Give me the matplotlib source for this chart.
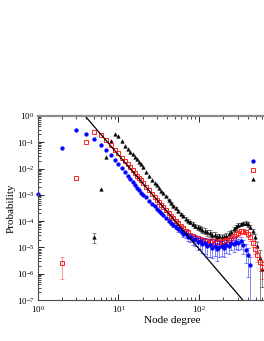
import numpy as np
import matplotlib
matplotlib.use('Agg')
import matplotlib.pyplot as plt
from matplotlib.ticker import LogLocator, NullFormatter, FixedLocator

plt.rcParams['font.family'] = ['Liberation Serif', 'DejaVu Serif']
plt.rcParams['mathtext.fontset'] = 'stix'

nan = np.nan

# node degree (log-binned above 20)
k = [1, 2, 3, 4, 5, 6, 7, 8, 9, 10, 11, 12, 13, 14, 15, 16, 17, 18, 19, 20,
     22, 24, 26, 28, 30, 32, 34, 36,
     39, 42, 45, 48, 51, 55, 59, 63, 68, 73, 78, 84, 90, 96,
     103, 110, 118, 126, 135, 145, 155, 166, 178, 190,
     204, 218, 233, 250, 267, 286, 306, 328, 351, 376,
     402, 430, 460, 493, 528, 565, 605]

# log10 of probability
blue_logp = [-2.96, -1.22, -0.54, -0.68, -0.89, -1.11, -1.31, -1.49, -1.66, -1.83,
             -1.98, -2.13, -2.27, -2.40, -2.53, -2.63, -2.73, -2.83, -2.92, -2.99,
             -3.10, -3.22, -3.33, -3.43, -3.52, -3.62, -3.70, -3.78,
             -3.89, -3.98, -4.07, -4.13, -4.22, -4.31, -4.36, -4.47, -4.50, -4.60, -4.62, -4.70, -4.68, -4.80,
             -4.76, -4.88, -4.84, -4.95, -4.90, -5.02, -4.93, -5.05, -4.97, -4.94,
             -5.02, -4.90, -4.96, -4.82, -4.88, -4.78, -4.84, -4.76, -4.90, -5.08,
             -5.30, -5.65, nan, nan, nan, nan, nan]
red_logp = [nan, -5.60, -2.36, -0.98, -0.61, -0.72, -0.93, -1.12, -1.29, -1.42,
            -1.58, -1.71, -1.83, -1.95, -2.07, -2.17, -2.27, -2.35, -2.45, -2.54,
            -2.69, -2.82, -2.95, -3.07, -3.18, -3.28, -3.37, -3.46,
            -3.58, -3.69, -3.79, -3.89, -3.98, -4.08, -4.18, -4.26, -4.37, -4.43, -4.52, -4.55, -4.63, -4.64,
            -4.70, -4.71, -4.76, -4.74, -4.80, -4.77, -4.82, -4.79, -4.81, -4.78,
            -4.77, -4.73, -4.71, -4.63, -4.58, -4.49, -4.45, -4.39, -4.38, -4.40,
            -4.48, -4.62, -4.82, -5.05, -5.30, -5.55, -5.75]
black_logp = [nan, nan, nan, nan, -4.61, -2.78, -1.57, -0.95, -0.68, -0.75,
              -0.97, -1.16, -1.27, -1.37, -1.46, -1.55, -1.64, -1.74, -1.84, -1.94,
              -2.12, -2.28, -2.42, -2.54, -2.64, -2.74, -2.84, -2.93,
              -3.06, -3.18, -3.30, -3.41, -3.51, -3.62, -3.72, -3.81, -3.90, -3.98, -4.05, -4.11, -4.17, -4.22,
              -4.27, -4.33, -4.36, -4.43, -4.46, -4.52, -4.54, -4.59, -4.58, -4.62,
              -4.59, -4.56, -4.47, -4.41, -4.30, -4.24, -4.15, -4.12, -4.08, -4.07,
              -4.12, -4.22, -4.38, -4.60, -4.95, -5.40, -5.80]

# relative errors (error / probability)
blue_rel = [0] * 28 + [0.10, 0.12, 0.14, 0.16, 0.18, 0.20, 0.22, 0.25, 0.28, 0.30, 0.35, 0.40, 0.45, 0.50,
                       0.50, 0.55, 0.60, 0.60, 0.65, 0.60, 0.60, 0.65, 0.60, 0.60,
                       0.55, 0.50, 0.50, 0.45, 0.50, 0.45, 0.45, 0.50, 0.55, 0.70,
                       0.85, 0.99, 0, 0, 0, 0, 0]
red_rel = [0, 0.75] + [0] * 26 + [0.05, 0.06, 0.07, 0.08, 0.09, 0.10, 0.11, 0.12, 0.14, 0.16, 0.18, 0.20, 0.22, 0.24,
                                  0.25, 0.27, 0.28, 0.30, 0.30, 0.30, 0.30, 0.30, 0.30, 0.30,
                                  0.30, 0.28, 0.27, 0.25, 0.23, 0.22, 0.20, 0.20, 0.20, 0.20,
                                  0.22, 0.25, 0.30, 0.35, 0.45, 0.55, 0.65]
black_rel = [0] * 4 + [0.42] + [0] * 23 + [0.04, 0.05, 0.06, 0.07, 0.08, 0.09, 0.10, 0.11, 0.12, 0.14, 0.16, 0.18, 0.20, 0.22,
                                           0.23, 0.25, 0.26, 0.27, 0.28, 0.28, 0.29, 0.29, 0.29, 0.29,
                                           0.28, 0.27, 0.25, 0.23, 0.21, 0.19, 0.18, 0.17, 0.16, 0.16,
                                           0.18, 0.20, 0.25, 0.30, 0.40, 0.99, 0.80]

# power law guide line p = A * k^gamma
line_A = 10 ** 2.1
line_gamma = -3.58

fig = plt.figure(figsize=(2.64, 3.41), dpi=100)
ax = fig.add_axes([0.143, 0.12, 0.917, 0.54])

k = np.array(k, dtype=float)
series = [
    (black_logp, black_rel, 'k', '^', dict(ms=2.6, mfc='k', mec='k', mew=0.3)),
    (red_logp, red_rel, '#ff2020', 's', dict(ms=2.3, mfc='none', mec='#ff2020', mew=0.7)),
    (blue_logp, blue_rel, '#0000ff', 'o', dict(ms=2.7, mfc='#0000ff', mec='#0000ff', mew=0.3)),
]
handles = {}
for logp, rel, c, m, kw in series:
    p = 10 ** np.array(logp)
    err = p * np.array(rel)
    sel = np.array(rel) > 0
    ax.errorbar(k[sel], p[sel], yerr=err[sel], fmt='none', ecolor=c, elinewidth=0.6,
                capsize=1.2, capthick=0.6, alpha=0.55)
    h, = ax.plot(k, p, ls='none', marker=m, color=c, clip_on=False, **kw)
    handles[c] = h

kk = np.array([1.0, 1000.0])
ax.plot(kk, line_A * kk ** line_gamma, color='k', lw=0.9)

ax.set_xscale('log')
ax.set_yscale('log')
ax.set_xlim(1, 1000)
ax.set_ylim(1e-7, 1)
ax.xaxis.set_major_locator(FixedLocator([1, 10, 100]))
ax.yaxis.set_major_locator(LogLocator(base=10, numticks=10))
ax.yaxis.set_minor_locator(LogLocator(base=10, subs=np.arange(2, 10), numticks=20))
ax.yaxis.set_minor_formatter(NullFormatter())
ax.tick_params(which='both', direction='in', top=True, right=True, labelsize=6.5, pad=2.5)
ax.tick_params(which='major', length=4, width=0.6)
ax.tick_params(which='minor', length=2, width=0.5)
for s in ax.spines.values():
    s.set_color('0.3')
    s.set_linewidth(0.8)
ax.spines['top'].set_linewidth(1.6)
ax.spines['top'].set_color('0.55')

ax.set_xlabel('Node degree', fontsize=8)
ax.set_ylabel('Probability', fontsize=8)
ax.xaxis.set_label_coords(0.555, -0.085)
ax.yaxis.set_label_coords(-0.092, 0.5)

ax.legend([handles['#0000ff'], handles['#ff2020'], handles['k']], ['', '', ''],
          loc='center left', bbox_to_anchor=(0.87, 0.70), frameon=False,
          fontsize=6.5, handlelength=1.0, handletextpad=0.4, labelspacing=0.05,
          borderpad=0, borderaxespad=0)

fig.savefig('out.png', dpi=100)
